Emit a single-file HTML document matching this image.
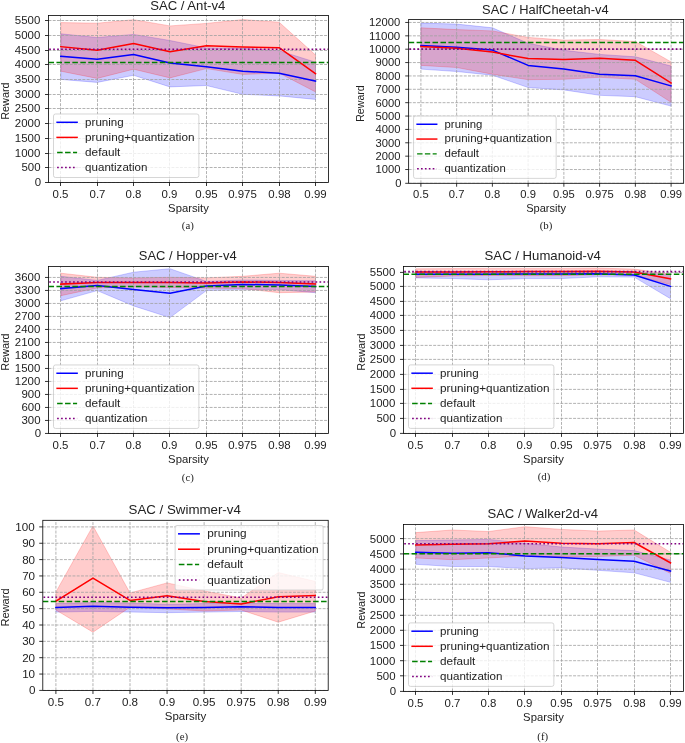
<!DOCTYPE html>
<html><head><meta charset="utf-8"><title>SAC pruning results</title>
<style>html,body{margin:0;padding:0;background:#fff;}svg{display:block;will-change:transform;}text{font-family:"Liberation Sans",sans-serif;}text.cap{font-family:"Liberation Serif",serif;}</style></head>
<body>
<svg width="685" height="743" viewBox="0 0 685 743" font-family="Liberation Sans, sans-serif">
<clipPath id="cpa"><rect x="48.5" y="15.5" width="280.0" height="167.0"/></clipPath>
<g clip-path="url(#cpa)">
<polygon points="60.80,33.80 97.19,37.50 133.58,34.40 169.97,40.50 206.36,47.90 242.75,48.10 279.14,50.70 315.53,62.20 315.53,99.40 279.14,95.90 242.75,94.30 206.36,85.50 169.97,86.90 133.58,75.30 97.19,82.40 60.80,79.40" fill="#0000ff" fill-opacity="0.2" stroke="#0000ff" stroke-opacity="0.2" stroke-width="1" stroke-linejoin="miter"/>
<polygon points="60.80,22.60 97.19,23.20 133.58,19.70 169.97,25.90 206.36,23.40 242.75,19.60 279.14,22.20 315.53,55.00 315.53,91.90 279.14,73.10 242.75,74.40 206.36,68.60 169.97,77.90 133.58,69.20 97.19,78.40 60.80,71.20" fill="#ff0000" fill-opacity="0.2" stroke="#ff0000" stroke-opacity="0.2" stroke-width="1" stroke-linejoin="miter"/>
<line x1="60.50" y1="182.5" x2="60.50" y2="15.5" stroke="#a0a0a0" stroke-width="0.8" stroke-dasharray="2.96 1.28"/>
<line x1="97.50" y1="182.5" x2="97.50" y2="15.5" stroke="#a0a0a0" stroke-width="0.8" stroke-dasharray="2.96 1.28"/>
<line x1="133.50" y1="182.5" x2="133.50" y2="15.5" stroke="#a0a0a0" stroke-width="0.8" stroke-dasharray="2.96 1.28"/>
<line x1="169.50" y1="182.5" x2="169.50" y2="15.5" stroke="#a0a0a0" stroke-width="0.8" stroke-dasharray="2.96 1.28"/>
<line x1="206.50" y1="182.5" x2="206.50" y2="15.5" stroke="#a0a0a0" stroke-width="0.8" stroke-dasharray="2.96 1.28"/>
<line x1="242.50" y1="182.5" x2="242.50" y2="15.5" stroke="#a0a0a0" stroke-width="0.8" stroke-dasharray="2.96 1.28"/>
<line x1="279.50" y1="182.5" x2="279.50" y2="15.5" stroke="#a0a0a0" stroke-width="0.8" stroke-dasharray="2.96 1.28"/>
<line x1="315.50" y1="182.5" x2="315.50" y2="15.5" stroke="#a0a0a0" stroke-width="0.8" stroke-dasharray="2.96 1.28"/>
<line x1="48.5" y1="182.50" x2="328.5" y2="182.50" stroke="#a0a0a0" stroke-width="0.8" stroke-dasharray="2.96 1.28"/>
<line x1="48.5" y1="167.50" x2="328.5" y2="167.50" stroke="#a0a0a0" stroke-width="0.8" stroke-dasharray="2.96 1.28"/>
<line x1="48.5" y1="153.50" x2="328.5" y2="153.50" stroke="#a0a0a0" stroke-width="0.8" stroke-dasharray="2.96 1.28"/>
<line x1="48.5" y1="138.50" x2="328.5" y2="138.50" stroke="#a0a0a0" stroke-width="0.8" stroke-dasharray="2.96 1.28"/>
<line x1="48.5" y1="123.50" x2="328.5" y2="123.50" stroke="#a0a0a0" stroke-width="0.8" stroke-dasharray="2.96 1.28"/>
<line x1="48.5" y1="108.50" x2="328.5" y2="108.50" stroke="#a0a0a0" stroke-width="0.8" stroke-dasharray="2.96 1.28"/>
<line x1="48.5" y1="94.50" x2="328.5" y2="94.50" stroke="#a0a0a0" stroke-width="0.8" stroke-dasharray="2.96 1.28"/>
<line x1="48.5" y1="79.50" x2="328.5" y2="79.50" stroke="#a0a0a0" stroke-width="0.8" stroke-dasharray="2.96 1.28"/>
<line x1="48.5" y1="64.50" x2="328.5" y2="64.50" stroke="#a0a0a0" stroke-width="0.8" stroke-dasharray="2.96 1.28"/>
<line x1="48.5" y1="50.50" x2="328.5" y2="50.50" stroke="#a0a0a0" stroke-width="0.8" stroke-dasharray="2.96 1.28"/>
<line x1="48.5" y1="35.50" x2="328.5" y2="35.50" stroke="#a0a0a0" stroke-width="0.8" stroke-dasharray="2.96 1.28"/>
<line x1="48.5" y1="20.50" x2="328.5" y2="20.50" stroke="#a0a0a0" stroke-width="0.8" stroke-dasharray="2.96 1.28"/>
<polyline points="60.80,56.30 97.19,59.30 133.58,54.40 169.97,63.00 206.36,66.70 242.75,71.20 279.14,73.20 315.53,81.00" fill="none" stroke="#0000ff" stroke-width="1.5" stroke-linejoin="round" stroke-linecap="square"/>
<polyline points="60.80,46.70 97.19,50.20 133.58,43.60 169.97,51.80 206.36,45.70 242.75,47.10 279.14,47.70 315.53,73.70" fill="none" stroke="#ff0000" stroke-width="1.5" stroke-linejoin="round" stroke-linecap="square"/>
<line x1="48.5" y1="62.40" x2="328.5" y2="62.40" stroke="#008000" stroke-width="1.5" stroke-dasharray="5.55 2.4"/>
<line x1="48.5" y1="49.30" x2="328.5" y2="49.30" stroke="#800080" stroke-width="1.6" stroke-dasharray="1.7 2.275" stroke-dashoffset="-0.7"/>
</g>
<line x1="60.50" y1="182.5" x2="60.50" y2="186.00" stroke="#000" stroke-width="0.800"/>
<line x1="97.50" y1="182.5" x2="97.50" y2="186.00" stroke="#000" stroke-width="0.800"/>
<line x1="133.50" y1="182.5" x2="133.50" y2="186.00" stroke="#000" stroke-width="0.800"/>
<line x1="169.50" y1="182.5" x2="169.50" y2="186.00" stroke="#000" stroke-width="0.800"/>
<line x1="206.50" y1="182.5" x2="206.50" y2="186.00" stroke="#000" stroke-width="0.800"/>
<line x1="242.50" y1="182.5" x2="242.50" y2="186.00" stroke="#000" stroke-width="0.800"/>
<line x1="279.50" y1="182.5" x2="279.50" y2="186.00" stroke="#000" stroke-width="0.800"/>
<line x1="315.50" y1="182.5" x2="315.50" y2="186.00" stroke="#000" stroke-width="0.800"/>
<line x1="48.5" y1="182.50" x2="45.00" y2="182.50" stroke="#000" stroke-width="0.800"/>
<line x1="48.5" y1="167.50" x2="45.00" y2="167.50" stroke="#000" stroke-width="0.800"/>
<line x1="48.5" y1="153.50" x2="45.00" y2="153.50" stroke="#000" stroke-width="0.800"/>
<line x1="48.5" y1="138.50" x2="45.00" y2="138.50" stroke="#000" stroke-width="0.800"/>
<line x1="48.5" y1="123.50" x2="45.00" y2="123.50" stroke="#000" stroke-width="0.800"/>
<line x1="48.5" y1="108.50" x2="45.00" y2="108.50" stroke="#000" stroke-width="0.800"/>
<line x1="48.5" y1="94.50" x2="45.00" y2="94.50" stroke="#000" stroke-width="0.800"/>
<line x1="48.5" y1="79.50" x2="45.00" y2="79.50" stroke="#000" stroke-width="0.800"/>
<line x1="48.5" y1="64.50" x2="45.00" y2="64.50" stroke="#000" stroke-width="0.800"/>
<line x1="48.5" y1="50.50" x2="45.00" y2="50.50" stroke="#000" stroke-width="0.800"/>
<line x1="48.5" y1="35.50" x2="45.00" y2="35.50" stroke="#000" stroke-width="0.800"/>
<line x1="48.5" y1="20.50" x2="45.00" y2="20.50" stroke="#000" stroke-width="0.800"/>
<rect x="48.5" y="15.5" width="280.0" height="167.0" fill="none" stroke="#000" stroke-width="0.8"/>
<rect x="53.50" y="114.00" width="145.36" height="63.50" rx="2.00" ry="2.00" fill="#fff" fill-opacity="0.8" stroke="#ccc" stroke-opacity="0.8" stroke-width="1.00"/>
<line x1="57.10" y1="122.30" x2="77.10" y2="122.30" stroke="#0000ff" stroke-width="1.50" stroke-linecap="square"/>
<line x1="57.10" y1="137.40" x2="77.10" y2="137.40" stroke="#ff0000" stroke-width="1.50" stroke-linecap="square"/>
<line x1="57.10" y1="152.50" x2="77.10" y2="152.50" stroke="#008000" stroke-width="1.50" stroke-dasharray="5.55 2.40"/>
<line x1="57.10" y1="167.60" x2="77.10" y2="167.60" stroke="#800080" stroke-width="1.50" stroke-dasharray="1.70 2.27"/>
<clipPath id="cpb"><rect x="408.65" y="19.55" width="275.0" height="163.75"/></clipPath>
<g clip-path="url(#cpb)">
<polygon points="420.90,23.10 456.64,24.10 492.39,27.80 528.13,43.30 563.87,50.30 599.61,54.40 635.36,56.80 671.10,66.00 671.10,106.10 635.36,96.70 599.61,95.30 563.87,89.90 528.13,87.50 492.39,75.20 456.64,71.50 420.90,69.10" fill="#0000ff" fill-opacity="0.2" stroke="#0000ff" stroke-opacity="0.2" stroke-width="1" stroke-linejoin="miter"/>
<polygon points="420.90,27.80 456.64,29.60 492.39,30.90 528.13,37.40 563.87,40.10 599.61,39.50 635.36,41.50 671.10,61.90 671.10,102.30 635.36,79.30 599.61,77.30 563.87,79.30 528.13,79.70 492.39,74.20 456.64,67.50 420.90,65.40" fill="#ff0000" fill-opacity="0.2" stroke="#ff0000" stroke-opacity="0.2" stroke-width="1" stroke-linejoin="miter"/>
<line x1="420.90" y1="183.3" x2="420.90" y2="19.55" stroke="#a0a0a0" stroke-width="0.8" stroke-dasharray="2.96 1.28"/>
<line x1="456.64" y1="183.3" x2="456.64" y2="19.55" stroke="#a0a0a0" stroke-width="0.8" stroke-dasharray="2.96 1.28"/>
<line x1="492.39" y1="183.3" x2="492.39" y2="19.55" stroke="#a0a0a0" stroke-width="0.8" stroke-dasharray="2.96 1.28"/>
<line x1="528.13" y1="183.3" x2="528.13" y2="19.55" stroke="#a0a0a0" stroke-width="0.8" stroke-dasharray="2.96 1.28"/>
<line x1="563.87" y1="183.3" x2="563.87" y2="19.55" stroke="#a0a0a0" stroke-width="0.8" stroke-dasharray="2.96 1.28"/>
<line x1="599.61" y1="183.3" x2="599.61" y2="19.55" stroke="#a0a0a0" stroke-width="0.8" stroke-dasharray="2.96 1.28"/>
<line x1="635.36" y1="183.3" x2="635.36" y2="19.55" stroke="#a0a0a0" stroke-width="0.8" stroke-dasharray="2.96 1.28"/>
<line x1="671.10" y1="183.3" x2="671.10" y2="19.55" stroke="#a0a0a0" stroke-width="0.8" stroke-dasharray="2.96 1.28"/>
<line x1="408.65" y1="183.30" x2="683.65" y2="183.30" stroke="#a0a0a0" stroke-width="0.8" stroke-dasharray="2.96 1.28"/>
<line x1="408.65" y1="169.53" x2="683.65" y2="169.53" stroke="#a0a0a0" stroke-width="0.8" stroke-dasharray="2.96 1.28"/>
<line x1="408.65" y1="156.16" x2="683.65" y2="156.16" stroke="#a0a0a0" stroke-width="0.8" stroke-dasharray="2.96 1.28"/>
<line x1="408.65" y1="142.79" x2="683.65" y2="142.79" stroke="#a0a0a0" stroke-width="0.8" stroke-dasharray="2.96 1.28"/>
<line x1="408.65" y1="129.42" x2="683.65" y2="129.42" stroke="#a0a0a0" stroke-width="0.8" stroke-dasharray="2.96 1.28"/>
<line x1="408.65" y1="116.05" x2="683.65" y2="116.05" stroke="#a0a0a0" stroke-width="0.8" stroke-dasharray="2.96 1.28"/>
<line x1="408.65" y1="102.68" x2="683.65" y2="102.68" stroke="#a0a0a0" stroke-width="0.8" stroke-dasharray="2.96 1.28"/>
<line x1="408.65" y1="89.31" x2="683.65" y2="89.31" stroke="#a0a0a0" stroke-width="0.8" stroke-dasharray="2.96 1.28"/>
<line x1="408.65" y1="75.94" x2="683.65" y2="75.94" stroke="#a0a0a0" stroke-width="0.8" stroke-dasharray="2.96 1.28"/>
<line x1="408.65" y1="62.57" x2="683.65" y2="62.57" stroke="#a0a0a0" stroke-width="0.8" stroke-dasharray="2.96 1.28"/>
<line x1="408.65" y1="49.20" x2="683.65" y2="49.20" stroke="#a0a0a0" stroke-width="0.8" stroke-dasharray="2.96 1.28"/>
<line x1="408.65" y1="35.83" x2="683.65" y2="35.83" stroke="#a0a0a0" stroke-width="0.8" stroke-dasharray="2.96 1.28"/>
<line x1="408.65" y1="22.46" x2="683.65" y2="22.46" stroke="#a0a0a0" stroke-width="0.8" stroke-dasharray="2.96 1.28"/>
<polyline points="420.90,45.60 456.64,47.20 492.39,50.10 528.13,65.40 563.87,69.10 599.61,74.20 635.36,75.80 671.10,85.90" fill="none" stroke="#0000ff" stroke-width="1.5" stroke-linejoin="round" stroke-linecap="square"/>
<polyline points="420.90,46.60 456.64,48.20 492.39,52.10 528.13,58.50 563.87,59.50 599.61,58.30 635.36,60.30 671.10,83.00" fill="none" stroke="#ff0000" stroke-width="1.5" stroke-linejoin="round" stroke-linecap="square"/>
<line x1="408.65" y1="42.50" x2="683.65" y2="42.50" stroke="#008000" stroke-width="1.5" stroke-dasharray="5.55 2.4"/>
<line x1="408.65" y1="49.10" x2="683.65" y2="49.10" stroke="#800080" stroke-width="1.6" stroke-dasharray="1.7 2.275" stroke-dashoffset="-0.7"/>
</g>
<line x1="420.90" y1="183.3" x2="420.90" y2="186.73" stroke="#000" stroke-width="0.785"/>
<line x1="456.64" y1="183.3" x2="456.64" y2="186.73" stroke="#000" stroke-width="0.785"/>
<line x1="492.39" y1="183.3" x2="492.39" y2="186.73" stroke="#000" stroke-width="0.785"/>
<line x1="528.13" y1="183.3" x2="528.13" y2="186.73" stroke="#000" stroke-width="0.785"/>
<line x1="563.87" y1="183.3" x2="563.87" y2="186.73" stroke="#000" stroke-width="0.785"/>
<line x1="599.61" y1="183.3" x2="599.61" y2="186.73" stroke="#000" stroke-width="0.785"/>
<line x1="635.36" y1="183.3" x2="635.36" y2="186.73" stroke="#000" stroke-width="0.785"/>
<line x1="671.10" y1="183.3" x2="671.10" y2="186.73" stroke="#000" stroke-width="0.785"/>
<line x1="408.65" y1="183.30" x2="405.22" y2="183.30" stroke="#000" stroke-width="0.785"/>
<line x1="408.65" y1="169.53" x2="405.22" y2="169.53" stroke="#000" stroke-width="0.785"/>
<line x1="408.65" y1="156.16" x2="405.22" y2="156.16" stroke="#000" stroke-width="0.785"/>
<line x1="408.65" y1="142.79" x2="405.22" y2="142.79" stroke="#000" stroke-width="0.785"/>
<line x1="408.65" y1="129.42" x2="405.22" y2="129.42" stroke="#000" stroke-width="0.785"/>
<line x1="408.65" y1="116.05" x2="405.22" y2="116.05" stroke="#000" stroke-width="0.785"/>
<line x1="408.65" y1="102.68" x2="405.22" y2="102.68" stroke="#000" stroke-width="0.785"/>
<line x1="408.65" y1="89.31" x2="405.22" y2="89.31" stroke="#000" stroke-width="0.785"/>
<line x1="408.65" y1="75.94" x2="405.22" y2="75.94" stroke="#000" stroke-width="0.785"/>
<line x1="408.65" y1="62.57" x2="405.22" y2="62.57" stroke="#000" stroke-width="0.785"/>
<line x1="408.65" y1="49.20" x2="405.22" y2="49.20" stroke="#000" stroke-width="0.785"/>
<line x1="408.65" y1="35.83" x2="405.22" y2="35.83" stroke="#000" stroke-width="0.785"/>
<line x1="408.65" y1="22.46" x2="405.22" y2="22.46" stroke="#000" stroke-width="0.785"/>
<rect x="408.65" y="19.55" width="275.0" height="163.75" fill="none" stroke="#000" stroke-width="0.8"/>
<rect x="413.55" y="116.10" width="142.60" height="62.29" rx="1.96" ry="1.96" fill="#fff" fill-opacity="0.8" stroke="#ccc" stroke-opacity="0.8" stroke-width="0.98"/>
<line x1="417.09" y1="124.24" x2="436.71" y2="124.24" stroke="#0000ff" stroke-width="1.47" stroke-linecap="square"/>
<line x1="417.09" y1="139.06" x2="436.71" y2="139.06" stroke="#ff0000" stroke-width="1.47" stroke-linecap="square"/>
<line x1="417.09" y1="153.87" x2="436.71" y2="153.87" stroke="#008000" stroke-width="1.47" stroke-dasharray="5.44 2.35"/>
<line x1="417.09" y1="168.68" x2="436.71" y2="168.68" stroke="#800080" stroke-width="1.47" stroke-dasharray="1.67 2.23"/>
<clipPath id="cpc"><rect x="48.5" y="266.45" width="280.0" height="167.0"/></clipPath>
<g clip-path="url(#cpc)">
<polygon points="60.80,276.30 97.19,280.40 133.58,272.20 169.97,268.70 206.36,281.40 242.75,280.00 279.14,280.40 315.53,280.80 315.53,292.70 279.14,289.60 242.75,289.60 206.36,290.60 169.97,317.60 133.58,305.90 97.19,290.60 60.80,300.80" fill="#0000ff" fill-opacity="0.2" stroke="#0000ff" stroke-opacity="0.2" stroke-width="1" stroke-linejoin="miter"/>
<polygon points="60.80,273.20 97.19,277.30 133.58,278.00 169.97,277.30 206.36,277.90 242.75,276.30 279.14,273.20 315.53,276.30 315.53,292.00 279.14,292.70 242.75,288.60 206.36,288.20 169.97,287.50 133.58,287.00 97.19,288.00 60.80,295.70" fill="#ff0000" fill-opacity="0.2" stroke="#ff0000" stroke-opacity="0.2" stroke-width="1" stroke-linejoin="miter"/>
<line x1="60.50" y1="433.45" x2="60.50" y2="266.45" stroke="#a0a0a0" stroke-width="0.8" stroke-dasharray="2.96 1.28"/>
<line x1="97.50" y1="433.45" x2="97.50" y2="266.45" stroke="#a0a0a0" stroke-width="0.8" stroke-dasharray="2.96 1.28"/>
<line x1="133.50" y1="433.45" x2="133.50" y2="266.45" stroke="#a0a0a0" stroke-width="0.8" stroke-dasharray="2.96 1.28"/>
<line x1="169.50" y1="433.45" x2="169.50" y2="266.45" stroke="#a0a0a0" stroke-width="0.8" stroke-dasharray="2.96 1.28"/>
<line x1="206.50" y1="433.45" x2="206.50" y2="266.45" stroke="#a0a0a0" stroke-width="0.8" stroke-dasharray="2.96 1.28"/>
<line x1="242.50" y1="433.45" x2="242.50" y2="266.45" stroke="#a0a0a0" stroke-width="0.8" stroke-dasharray="2.96 1.28"/>
<line x1="279.50" y1="433.45" x2="279.50" y2="266.45" stroke="#a0a0a0" stroke-width="0.8" stroke-dasharray="2.96 1.28"/>
<line x1="315.50" y1="433.45" x2="315.50" y2="266.45" stroke="#a0a0a0" stroke-width="0.8" stroke-dasharray="2.96 1.28"/>
<line x1="48.5" y1="433.45" x2="328.5" y2="433.45" stroke="#a0a0a0" stroke-width="0.8" stroke-dasharray="2.96 1.28"/>
<line x1="48.5" y1="420.45" x2="328.5" y2="420.45" stroke="#a0a0a0" stroke-width="0.8" stroke-dasharray="2.96 1.28"/>
<line x1="48.5" y1="407.45" x2="328.5" y2="407.45" stroke="#a0a0a0" stroke-width="0.8" stroke-dasharray="2.96 1.28"/>
<line x1="48.5" y1="394.45" x2="328.5" y2="394.45" stroke="#a0a0a0" stroke-width="0.8" stroke-dasharray="2.96 1.28"/>
<line x1="48.5" y1="381.45" x2="328.5" y2="381.45" stroke="#a0a0a0" stroke-width="0.8" stroke-dasharray="2.96 1.28"/>
<line x1="48.5" y1="368.45" x2="328.5" y2="368.45" stroke="#a0a0a0" stroke-width="0.8" stroke-dasharray="2.96 1.28"/>
<line x1="48.5" y1="355.45" x2="328.5" y2="355.45" stroke="#a0a0a0" stroke-width="0.8" stroke-dasharray="2.96 1.28"/>
<line x1="48.5" y1="342.45" x2="328.5" y2="342.45" stroke="#a0a0a0" stroke-width="0.8" stroke-dasharray="2.96 1.28"/>
<line x1="48.5" y1="329.45" x2="328.5" y2="329.45" stroke="#a0a0a0" stroke-width="0.8" stroke-dasharray="2.96 1.28"/>
<line x1="48.5" y1="316.45" x2="328.5" y2="316.45" stroke="#a0a0a0" stroke-width="0.8" stroke-dasharray="2.96 1.28"/>
<line x1="48.5" y1="303.45" x2="328.5" y2="303.45" stroke="#a0a0a0" stroke-width="0.8" stroke-dasharray="2.96 1.28"/>
<line x1="48.5" y1="290.45" x2="328.5" y2="290.45" stroke="#a0a0a0" stroke-width="0.8" stroke-dasharray="2.96 1.28"/>
<line x1="48.5" y1="277.45" x2="328.5" y2="277.45" stroke="#a0a0a0" stroke-width="0.8" stroke-dasharray="2.96 1.28"/>
<polyline points="60.80,288.60 97.19,285.50 133.58,289.60 169.97,293.30 206.36,286.10 242.75,284.50 279.14,284.90 315.53,286.50" fill="none" stroke="#0000ff" stroke-width="1.5" stroke-linejoin="round" stroke-linecap="square"/>
<polyline points="60.80,284.10 97.19,282.40 133.58,282.40 169.97,282.40 206.36,283.05 242.75,282.00 279.14,282.40 315.53,283.90" fill="none" stroke="#ff0000" stroke-width="1.5" stroke-linejoin="round" stroke-linecap="square"/>
<line x1="48.5" y1="286.50" x2="328.5" y2="286.50" stroke="#008000" stroke-width="1.5" stroke-dasharray="5.55 2.4"/>
<line x1="48.5" y1="282.00" x2="328.5" y2="282.00" stroke="#800080" stroke-width="1.6" stroke-dasharray="1.7 2.275" stroke-dashoffset="-0.7"/>
</g>
<line x1="60.50" y1="433.45" x2="60.50" y2="436.95" stroke="#000" stroke-width="0.800"/>
<line x1="97.50" y1="433.45" x2="97.50" y2="436.95" stroke="#000" stroke-width="0.800"/>
<line x1="133.50" y1="433.45" x2="133.50" y2="436.95" stroke="#000" stroke-width="0.800"/>
<line x1="169.50" y1="433.45" x2="169.50" y2="436.95" stroke="#000" stroke-width="0.800"/>
<line x1="206.50" y1="433.45" x2="206.50" y2="436.95" stroke="#000" stroke-width="0.800"/>
<line x1="242.50" y1="433.45" x2="242.50" y2="436.95" stroke="#000" stroke-width="0.800"/>
<line x1="279.50" y1="433.45" x2="279.50" y2="436.95" stroke="#000" stroke-width="0.800"/>
<line x1="315.50" y1="433.45" x2="315.50" y2="436.95" stroke="#000" stroke-width="0.800"/>
<line x1="48.5" y1="433.45" x2="45.00" y2="433.45" stroke="#000" stroke-width="0.800"/>
<line x1="48.5" y1="420.45" x2="45.00" y2="420.45" stroke="#000" stroke-width="0.800"/>
<line x1="48.5" y1="407.45" x2="45.00" y2="407.45" stroke="#000" stroke-width="0.800"/>
<line x1="48.5" y1="394.45" x2="45.00" y2="394.45" stroke="#000" stroke-width="0.800"/>
<line x1="48.5" y1="381.45" x2="45.00" y2="381.45" stroke="#000" stroke-width="0.800"/>
<line x1="48.5" y1="368.45" x2="45.00" y2="368.45" stroke="#000" stroke-width="0.800"/>
<line x1="48.5" y1="355.45" x2="45.00" y2="355.45" stroke="#000" stroke-width="0.800"/>
<line x1="48.5" y1="342.45" x2="45.00" y2="342.45" stroke="#000" stroke-width="0.800"/>
<line x1="48.5" y1="329.45" x2="45.00" y2="329.45" stroke="#000" stroke-width="0.800"/>
<line x1="48.5" y1="316.45" x2="45.00" y2="316.45" stroke="#000" stroke-width="0.800"/>
<line x1="48.5" y1="303.45" x2="45.00" y2="303.45" stroke="#000" stroke-width="0.800"/>
<line x1="48.5" y1="290.45" x2="45.00" y2="290.45" stroke="#000" stroke-width="0.800"/>
<line x1="48.5" y1="277.45" x2="45.00" y2="277.45" stroke="#000" stroke-width="0.800"/>
<rect x="48.5" y="266.45" width="280.0" height="167.0" fill="none" stroke="#000" stroke-width="0.8"/>
<rect x="53.50" y="364.95" width="145.36" height="63.50" rx="2.00" ry="2.00" fill="#fff" fill-opacity="0.8" stroke="#ccc" stroke-opacity="0.8" stroke-width="1.00"/>
<line x1="57.10" y1="373.25" x2="77.10" y2="373.25" stroke="#0000ff" stroke-width="1.50" stroke-linecap="square"/>
<line x1="57.10" y1="388.35" x2="77.10" y2="388.35" stroke="#ff0000" stroke-width="1.50" stroke-linecap="square"/>
<line x1="57.10" y1="403.45" x2="77.10" y2="403.45" stroke="#008000" stroke-width="1.50" stroke-dasharray="5.55 2.40"/>
<line x1="57.10" y1="418.55" x2="77.10" y2="418.55" stroke="#800080" stroke-width="1.50" stroke-dasharray="1.70 2.27"/>
<clipPath id="cpd"><rect x="403.5" y="266.4" width="280.0" height="167.0"/></clipPath>
<g clip-path="url(#cpd)">
<polygon points="415.80,271.60 452.19,271.60 488.58,271.60 524.97,271.40 561.36,271.40 597.75,271.40 634.14,272.50 670.53,274.50 670.53,298.70 634.14,277.10 597.75,276.80 561.36,278.60 524.97,278.60 488.58,279.80 452.19,278.50 415.80,277.90" fill="#0000ff" fill-opacity="0.2" stroke="#0000ff" stroke-opacity="0.2" stroke-width="1" stroke-linejoin="miter"/>
<polygon points="415.80,268.80 452.19,268.60 488.58,268.40 524.97,268.40 561.36,268.40 597.75,268.10 634.14,269.10 670.53,274.20 670.53,284.60 634.14,275.00 597.75,274.80 561.36,275.70 524.97,275.70 488.58,275.50 452.19,276.00 415.80,277.40" fill="#ff0000" fill-opacity="0.2" stroke="#ff0000" stroke-opacity="0.2" stroke-width="1" stroke-linejoin="miter"/>
<line x1="415.50" y1="433.4" x2="415.50" y2="266.4" stroke="#a0a0a0" stroke-width="0.8" stroke-dasharray="2.96 1.28"/>
<line x1="452.50" y1="433.4" x2="452.50" y2="266.4" stroke="#a0a0a0" stroke-width="0.8" stroke-dasharray="2.96 1.28"/>
<line x1="488.50" y1="433.4" x2="488.50" y2="266.4" stroke="#a0a0a0" stroke-width="0.8" stroke-dasharray="2.96 1.28"/>
<line x1="524.50" y1="433.4" x2="524.50" y2="266.4" stroke="#a0a0a0" stroke-width="0.8" stroke-dasharray="2.96 1.28"/>
<line x1="561.50" y1="433.4" x2="561.50" y2="266.4" stroke="#a0a0a0" stroke-width="0.8" stroke-dasharray="2.96 1.28"/>
<line x1="597.50" y1="433.4" x2="597.50" y2="266.4" stroke="#a0a0a0" stroke-width="0.8" stroke-dasharray="2.96 1.28"/>
<line x1="634.50" y1="433.4" x2="634.50" y2="266.4" stroke="#a0a0a0" stroke-width="0.8" stroke-dasharray="2.96 1.28"/>
<line x1="670.50" y1="433.4" x2="670.50" y2="266.4" stroke="#a0a0a0" stroke-width="0.8" stroke-dasharray="2.96 1.28"/>
<line x1="403.5" y1="433.40" x2="683.5" y2="433.40" stroke="#a0a0a0" stroke-width="0.8" stroke-dasharray="2.96 1.28"/>
<line x1="403.5" y1="418.40" x2="683.5" y2="418.40" stroke="#a0a0a0" stroke-width="0.8" stroke-dasharray="2.96 1.28"/>
<line x1="403.5" y1="403.40" x2="683.5" y2="403.40" stroke="#a0a0a0" stroke-width="0.8" stroke-dasharray="2.96 1.28"/>
<line x1="403.5" y1="389.40" x2="683.5" y2="389.40" stroke="#a0a0a0" stroke-width="0.8" stroke-dasharray="2.96 1.28"/>
<line x1="403.5" y1="374.40" x2="683.5" y2="374.40" stroke="#a0a0a0" stroke-width="0.8" stroke-dasharray="2.96 1.28"/>
<line x1="403.5" y1="359.40" x2="683.5" y2="359.40" stroke="#a0a0a0" stroke-width="0.8" stroke-dasharray="2.96 1.28"/>
<line x1="403.5" y1="345.40" x2="683.5" y2="345.40" stroke="#a0a0a0" stroke-width="0.8" stroke-dasharray="2.96 1.28"/>
<line x1="403.5" y1="330.40" x2="683.5" y2="330.40" stroke="#a0a0a0" stroke-width="0.8" stroke-dasharray="2.96 1.28"/>
<line x1="403.5" y1="315.40" x2="683.5" y2="315.40" stroke="#a0a0a0" stroke-width="0.8" stroke-dasharray="2.96 1.28"/>
<line x1="403.5" y1="301.40" x2="683.5" y2="301.40" stroke="#a0a0a0" stroke-width="0.8" stroke-dasharray="2.96 1.28"/>
<line x1="403.5" y1="286.40" x2="683.5" y2="286.40" stroke="#a0a0a0" stroke-width="0.8" stroke-dasharray="2.96 1.28"/>
<line x1="403.5" y1="272.40" x2="683.5" y2="272.40" stroke="#a0a0a0" stroke-width="0.8" stroke-dasharray="2.96 1.28"/>
<polyline points="415.80,274.20 452.19,274.20 488.58,274.30 524.97,273.90 561.36,273.90 597.75,273.80 634.14,275.00 670.53,286.40" fill="none" stroke="#0000ff" stroke-width="1.5" stroke-linejoin="round" stroke-linecap="square"/>
<polyline points="415.80,272.00 452.19,272.00 488.58,271.70 524.97,271.60 561.36,271.60 597.75,271.30 634.14,272.00 670.53,278.80" fill="none" stroke="#ff0000" stroke-width="1.5" stroke-linejoin="round" stroke-linecap="square"/>
<line x1="403.5" y1="274.20" x2="683.5" y2="274.20" stroke="#008000" stroke-width="1.5" stroke-dasharray="5.55 2.4"/>
<line x1="403.5" y1="271.60" x2="683.5" y2="271.60" stroke="#800080" stroke-width="1.6" stroke-dasharray="1.7 2.275" stroke-dashoffset="-0.7"/>
</g>
<line x1="415.50" y1="433.4" x2="415.50" y2="436.90" stroke="#000" stroke-width="0.800"/>
<line x1="452.50" y1="433.4" x2="452.50" y2="436.90" stroke="#000" stroke-width="0.800"/>
<line x1="488.50" y1="433.4" x2="488.50" y2="436.90" stroke="#000" stroke-width="0.800"/>
<line x1="524.50" y1="433.4" x2="524.50" y2="436.90" stroke="#000" stroke-width="0.800"/>
<line x1="561.50" y1="433.4" x2="561.50" y2="436.90" stroke="#000" stroke-width="0.800"/>
<line x1="597.50" y1="433.4" x2="597.50" y2="436.90" stroke="#000" stroke-width="0.800"/>
<line x1="634.50" y1="433.4" x2="634.50" y2="436.90" stroke="#000" stroke-width="0.800"/>
<line x1="670.50" y1="433.4" x2="670.50" y2="436.90" stroke="#000" stroke-width="0.800"/>
<line x1="403.5" y1="433.40" x2="400.00" y2="433.40" stroke="#000" stroke-width="0.800"/>
<line x1="403.5" y1="418.40" x2="400.00" y2="418.40" stroke="#000" stroke-width="0.800"/>
<line x1="403.5" y1="403.40" x2="400.00" y2="403.40" stroke="#000" stroke-width="0.800"/>
<line x1="403.5" y1="389.40" x2="400.00" y2="389.40" stroke="#000" stroke-width="0.800"/>
<line x1="403.5" y1="374.40" x2="400.00" y2="374.40" stroke="#000" stroke-width="0.800"/>
<line x1="403.5" y1="359.40" x2="400.00" y2="359.40" stroke="#000" stroke-width="0.800"/>
<line x1="403.5" y1="345.40" x2="400.00" y2="345.40" stroke="#000" stroke-width="0.800"/>
<line x1="403.5" y1="330.40" x2="400.00" y2="330.40" stroke="#000" stroke-width="0.800"/>
<line x1="403.5" y1="315.40" x2="400.00" y2="315.40" stroke="#000" stroke-width="0.800"/>
<line x1="403.5" y1="301.40" x2="400.00" y2="301.40" stroke="#000" stroke-width="0.800"/>
<line x1="403.5" y1="286.40" x2="400.00" y2="286.40" stroke="#000" stroke-width="0.800"/>
<line x1="403.5" y1="272.40" x2="400.00" y2="272.40" stroke="#000" stroke-width="0.800"/>
<rect x="403.5" y="266.4" width="280.0" height="167.0" fill="none" stroke="#000" stroke-width="0.8"/>
<rect x="408.50" y="364.90" width="145.36" height="63.50" rx="2.00" ry="2.00" fill="#fff" fill-opacity="0.8" stroke="#ccc" stroke-opacity="0.8" stroke-width="1.00"/>
<line x1="412.10" y1="373.20" x2="432.10" y2="373.20" stroke="#0000ff" stroke-width="1.50" stroke-linecap="square"/>
<line x1="412.10" y1="388.30" x2="432.10" y2="388.30" stroke="#ff0000" stroke-width="1.50" stroke-linecap="square"/>
<line x1="412.10" y1="403.40" x2="432.10" y2="403.40" stroke="#008000" stroke-width="1.50" stroke-dasharray="5.55 2.40"/>
<line x1="412.10" y1="418.50" x2="432.10" y2="418.50" stroke="#800080" stroke-width="1.50" stroke-dasharray="1.70 2.27"/>
<clipPath id="cpe"><rect x="42.8" y="520.3" width="285.4" height="170.10000000000002"/></clipPath>
<g clip-path="url(#cpe)">
<polygon points="55.90,603.60 92.96,602.60 130.01,603.00 167.07,604.30 204.13,603.60 241.19,603.00 278.24,603.60 315.30,603.60 315.30,612.10 278.24,612.10 241.19,611.50 204.13,612.10 167.07,612.70 130.01,612.00 92.96,611.40 55.90,612.10" fill="#0000ff" fill-opacity="0.2" stroke="#0000ff" stroke-opacity="0.2" stroke-width="1" stroke-linejoin="miter"/>
<polygon points="55.90,592.00 92.96,525.90 130.01,593.00 167.07,582.90 204.13,590.90 241.19,598.00 278.24,572.50 315.30,581.40 315.30,611.00 278.24,622.20 241.19,610.00 204.13,611.00 167.07,608.90 130.01,607.20 92.96,632.20 55.90,610.00" fill="#ff0000" fill-opacity="0.2" stroke="#ff0000" stroke-opacity="0.2" stroke-width="1" stroke-linejoin="miter"/>
<line x1="55.90" y1="690.4" x2="55.90" y2="520.3" stroke="#a0a0a0" stroke-width="0.8" stroke-dasharray="2.96 1.28"/>
<line x1="92.96" y1="690.4" x2="92.96" y2="520.3" stroke="#a0a0a0" stroke-width="0.8" stroke-dasharray="2.96 1.28"/>
<line x1="130.01" y1="690.4" x2="130.01" y2="520.3" stroke="#a0a0a0" stroke-width="0.8" stroke-dasharray="2.96 1.28"/>
<line x1="167.07" y1="690.4" x2="167.07" y2="520.3" stroke="#a0a0a0" stroke-width="0.8" stroke-dasharray="2.96 1.28"/>
<line x1="204.13" y1="690.4" x2="204.13" y2="520.3" stroke="#a0a0a0" stroke-width="0.8" stroke-dasharray="2.96 1.28"/>
<line x1="241.19" y1="690.4" x2="241.19" y2="520.3" stroke="#a0a0a0" stroke-width="0.8" stroke-dasharray="2.96 1.28"/>
<line x1="278.24" y1="690.4" x2="278.24" y2="520.3" stroke="#a0a0a0" stroke-width="0.8" stroke-dasharray="2.96 1.28"/>
<line x1="315.30" y1="690.4" x2="315.30" y2="520.3" stroke="#a0a0a0" stroke-width="0.8" stroke-dasharray="2.96 1.28"/>
<line x1="42.8" y1="690.40" x2="328.2" y2="690.40" stroke="#a0a0a0" stroke-width="0.8" stroke-dasharray="2.96 1.28"/>
<line x1="42.8" y1="674.05" x2="328.2" y2="674.05" stroke="#a0a0a0" stroke-width="0.8" stroke-dasharray="2.96 1.28"/>
<line x1="42.8" y1="657.70" x2="328.2" y2="657.70" stroke="#a0a0a0" stroke-width="0.8" stroke-dasharray="2.96 1.28"/>
<line x1="42.8" y1="641.35" x2="328.2" y2="641.35" stroke="#a0a0a0" stroke-width="0.8" stroke-dasharray="2.96 1.28"/>
<line x1="42.8" y1="625.00" x2="328.2" y2="625.00" stroke="#a0a0a0" stroke-width="0.8" stroke-dasharray="2.96 1.28"/>
<line x1="42.8" y1="608.65" x2="328.2" y2="608.65" stroke="#a0a0a0" stroke-width="0.8" stroke-dasharray="2.96 1.28"/>
<line x1="42.8" y1="592.30" x2="328.2" y2="592.30" stroke="#a0a0a0" stroke-width="0.8" stroke-dasharray="2.96 1.28"/>
<line x1="42.8" y1="575.95" x2="328.2" y2="575.95" stroke="#a0a0a0" stroke-width="0.8" stroke-dasharray="2.96 1.28"/>
<line x1="42.8" y1="559.60" x2="328.2" y2="559.60" stroke="#a0a0a0" stroke-width="0.8" stroke-dasharray="2.96 1.28"/>
<line x1="42.8" y1="543.25" x2="328.2" y2="543.25" stroke="#a0a0a0" stroke-width="0.8" stroke-dasharray="2.96 1.28"/>
<line x1="42.8" y1="526.90" x2="328.2" y2="526.90" stroke="#a0a0a0" stroke-width="0.8" stroke-dasharray="2.96 1.28"/>
<polyline points="55.90,607.40 92.96,606.20 130.01,607.20 167.07,607.85 204.13,607.40 241.19,606.80 278.24,607.40 315.30,607.40" fill="none" stroke="#0000ff" stroke-width="1.5" stroke-linejoin="round" stroke-linecap="square"/>
<polyline points="55.90,601.10 92.96,578.20 130.01,600.40 167.07,595.80 204.13,601.50 241.19,604.00 278.24,596.80 315.30,595.60" fill="none" stroke="#ff0000" stroke-width="1.5" stroke-linejoin="round" stroke-linecap="square"/>
<line x1="42.8" y1="601.50" x2="328.2" y2="601.50" stroke="#008000" stroke-width="1.5" stroke-dasharray="5.55 2.4"/>
<line x1="42.8" y1="597.30" x2="328.2" y2="597.30" stroke="#800080" stroke-width="1.6" stroke-dasharray="1.7 2.275" stroke-dashoffset="-0.7"/>
</g>
<line x1="55.90" y1="690.4" x2="55.90" y2="693.96" stroke="#000" stroke-width="0.814"/>
<line x1="92.96" y1="690.4" x2="92.96" y2="693.96" stroke="#000" stroke-width="0.814"/>
<line x1="130.01" y1="690.4" x2="130.01" y2="693.96" stroke="#000" stroke-width="0.814"/>
<line x1="167.07" y1="690.4" x2="167.07" y2="693.96" stroke="#000" stroke-width="0.814"/>
<line x1="204.13" y1="690.4" x2="204.13" y2="693.96" stroke="#000" stroke-width="0.814"/>
<line x1="241.19" y1="690.4" x2="241.19" y2="693.96" stroke="#000" stroke-width="0.814"/>
<line x1="278.24" y1="690.4" x2="278.24" y2="693.96" stroke="#000" stroke-width="0.814"/>
<line x1="315.30" y1="690.4" x2="315.30" y2="693.96" stroke="#000" stroke-width="0.814"/>
<line x1="42.8" y1="690.40" x2="39.24" y2="690.40" stroke="#000" stroke-width="0.814"/>
<line x1="42.8" y1="674.05" x2="39.24" y2="674.05" stroke="#000" stroke-width="0.814"/>
<line x1="42.8" y1="657.70" x2="39.24" y2="657.70" stroke="#000" stroke-width="0.814"/>
<line x1="42.8" y1="641.35" x2="39.24" y2="641.35" stroke="#000" stroke-width="0.814"/>
<line x1="42.8" y1="625.00" x2="39.24" y2="625.00" stroke="#000" stroke-width="0.814"/>
<line x1="42.8" y1="608.65" x2="39.24" y2="608.65" stroke="#000" stroke-width="0.814"/>
<line x1="42.8" y1="592.30" x2="39.24" y2="592.30" stroke="#000" stroke-width="0.814"/>
<line x1="42.8" y1="575.95" x2="39.24" y2="575.95" stroke="#000" stroke-width="0.814"/>
<line x1="42.8" y1="559.60" x2="39.24" y2="559.60" stroke="#000" stroke-width="0.814"/>
<line x1="42.8" y1="543.25" x2="39.24" y2="543.25" stroke="#000" stroke-width="0.814"/>
<line x1="42.8" y1="526.90" x2="39.24" y2="526.90" stroke="#000" stroke-width="0.814"/>
<rect x="42.8" y="520.3" width="285.4" height="170.10000000000002" fill="none" stroke="#000" stroke-width="0.8"/>
<rect x="175.13" y="525.39" width="147.98" height="64.64" rx="2.04" ry="2.04" fill="#fff" fill-opacity="0.8" stroke="#ccc" stroke-opacity="0.8" stroke-width="1.02"/>
<line x1="178.79" y1="533.84" x2="199.15" y2="533.84" stroke="#0000ff" stroke-width="1.53" stroke-linecap="square"/>
<line x1="178.79" y1="549.21" x2="199.15" y2="549.21" stroke="#ff0000" stroke-width="1.53" stroke-linecap="square"/>
<line x1="178.79" y1="564.58" x2="199.15" y2="564.58" stroke="#008000" stroke-width="1.53" stroke-dasharray="5.65 2.44"/>
<line x1="178.79" y1="579.95" x2="199.15" y2="579.95" stroke="#800080" stroke-width="1.53" stroke-dasharray="1.73 2.32"/>
<clipPath id="cpf"><rect x="403.5" y="524.4" width="280.0" height="167.0"/></clipPath>
<g clip-path="url(#cpf)">
<polygon points="415.80,540.60 452.19,540.00 488.58,539.40 524.97,543.20 561.36,547.00 597.75,549.10 634.14,550.60 670.53,560.10 670.53,582.30 634.14,572.80 597.75,570.30 561.36,567.90 524.97,568.60 488.58,566.50 452.19,566.50 415.80,564.30" fill="#0000ff" fill-opacity="0.2" stroke="#0000ff" stroke-opacity="0.2" stroke-width="1" stroke-linejoin="miter"/>
<polygon points="415.80,532.60 452.19,530.00 488.58,531.50 524.97,526.70 561.36,529.40 597.75,531.10 634.14,530.00 670.53,552.30 670.53,573.40 634.14,555.20 597.75,556.50 561.36,556.90 524.97,555.90 488.58,558.00 452.19,559.70 415.80,558.00" fill="#ff0000" fill-opacity="0.2" stroke="#ff0000" stroke-opacity="0.2" stroke-width="1" stroke-linejoin="miter"/>
<line x1="415.50" y1="691.4" x2="415.50" y2="524.4" stroke="#a0a0a0" stroke-width="0.8" stroke-dasharray="2.96 1.28"/>
<line x1="452.50" y1="691.4" x2="452.50" y2="524.4" stroke="#a0a0a0" stroke-width="0.8" stroke-dasharray="2.96 1.28"/>
<line x1="488.50" y1="691.4" x2="488.50" y2="524.4" stroke="#a0a0a0" stroke-width="0.8" stroke-dasharray="2.96 1.28"/>
<line x1="524.50" y1="691.4" x2="524.50" y2="524.4" stroke="#a0a0a0" stroke-width="0.8" stroke-dasharray="2.96 1.28"/>
<line x1="561.50" y1="691.4" x2="561.50" y2="524.4" stroke="#a0a0a0" stroke-width="0.8" stroke-dasharray="2.96 1.28"/>
<line x1="597.50" y1="691.4" x2="597.50" y2="524.4" stroke="#a0a0a0" stroke-width="0.8" stroke-dasharray="2.96 1.28"/>
<line x1="634.50" y1="691.4" x2="634.50" y2="524.4" stroke="#a0a0a0" stroke-width="0.8" stroke-dasharray="2.96 1.28"/>
<line x1="670.50" y1="691.4" x2="670.50" y2="524.4" stroke="#a0a0a0" stroke-width="0.8" stroke-dasharray="2.96 1.28"/>
<line x1="403.5" y1="691.40" x2="683.5" y2="691.40" stroke="#a0a0a0" stroke-width="0.8" stroke-dasharray="2.96 1.28"/>
<line x1="403.5" y1="675.80" x2="683.5" y2="675.80" stroke="#a0a0a0" stroke-width="0.8" stroke-dasharray="2.96 1.28"/>
<line x1="403.5" y1="660.70" x2="683.5" y2="660.70" stroke="#a0a0a0" stroke-width="0.8" stroke-dasharray="2.96 1.28"/>
<line x1="403.5" y1="645.40" x2="683.5" y2="645.40" stroke="#a0a0a0" stroke-width="0.8" stroke-dasharray="2.96 1.28"/>
<line x1="403.5" y1="630.30" x2="683.5" y2="630.30" stroke="#a0a0a0" stroke-width="0.8" stroke-dasharray="2.96 1.28"/>
<line x1="403.5" y1="615.30" x2="683.5" y2="615.30" stroke="#a0a0a0" stroke-width="0.8" stroke-dasharray="2.96 1.28"/>
<line x1="403.5" y1="599.40" x2="683.5" y2="599.40" stroke="#a0a0a0" stroke-width="0.8" stroke-dasharray="2.96 1.28"/>
<line x1="403.5" y1="584.30" x2="683.5" y2="584.30" stroke="#a0a0a0" stroke-width="0.8" stroke-dasharray="2.96 1.28"/>
<line x1="403.5" y1="569.20" x2="683.5" y2="569.20" stroke="#a0a0a0" stroke-width="0.8" stroke-dasharray="2.96 1.28"/>
<line x1="403.5" y1="553.90" x2="683.5" y2="553.90" stroke="#a0a0a0" stroke-width="0.8" stroke-dasharray="2.96 1.28"/>
<line x1="403.5" y1="538.60" x2="683.5" y2="538.60" stroke="#a0a0a0" stroke-width="0.8" stroke-dasharray="2.96 1.28"/>
<polyline points="415.80,552.30 452.19,553.30 488.58,552.70 524.97,555.90 561.36,557.60 597.75,559.50 634.14,561.20 670.53,571.10" fill="none" stroke="#0000ff" stroke-width="1.5" stroke-linejoin="round" stroke-linecap="square"/>
<polyline points="415.80,544.90 452.19,544.20 488.58,543.80 524.97,541.05 561.36,543.20 597.75,543.80 634.14,542.50 670.53,562.90" fill="none" stroke="#ff0000" stroke-width="1.5" stroke-linejoin="round" stroke-linecap="square"/>
<line x1="403.5" y1="553.75" x2="683.5" y2="553.75" stroke="#008000" stroke-width="1.5" stroke-dasharray="5.55 2.4"/>
<line x1="403.5" y1="543.80" x2="683.5" y2="543.80" stroke="#800080" stroke-width="1.6" stroke-dasharray="1.7 2.275" stroke-dashoffset="-0.7"/>
</g>
<line x1="415.50" y1="691.4" x2="415.50" y2="694.90" stroke="#000" stroke-width="0.800"/>
<line x1="452.50" y1="691.4" x2="452.50" y2="694.90" stroke="#000" stroke-width="0.800"/>
<line x1="488.50" y1="691.4" x2="488.50" y2="694.90" stroke="#000" stroke-width="0.800"/>
<line x1="524.50" y1="691.4" x2="524.50" y2="694.90" stroke="#000" stroke-width="0.800"/>
<line x1="561.50" y1="691.4" x2="561.50" y2="694.90" stroke="#000" stroke-width="0.800"/>
<line x1="597.50" y1="691.4" x2="597.50" y2="694.90" stroke="#000" stroke-width="0.800"/>
<line x1="634.50" y1="691.4" x2="634.50" y2="694.90" stroke="#000" stroke-width="0.800"/>
<line x1="670.50" y1="691.4" x2="670.50" y2="694.90" stroke="#000" stroke-width="0.800"/>
<line x1="403.5" y1="691.40" x2="400.00" y2="691.40" stroke="#000" stroke-width="0.800"/>
<line x1="403.5" y1="675.80" x2="400.00" y2="675.80" stroke="#000" stroke-width="0.800"/>
<line x1="403.5" y1="660.70" x2="400.00" y2="660.70" stroke="#000" stroke-width="0.800"/>
<line x1="403.5" y1="645.40" x2="400.00" y2="645.40" stroke="#000" stroke-width="0.800"/>
<line x1="403.5" y1="630.30" x2="400.00" y2="630.30" stroke="#000" stroke-width="0.800"/>
<line x1="403.5" y1="615.30" x2="400.00" y2="615.30" stroke="#000" stroke-width="0.800"/>
<line x1="403.5" y1="599.40" x2="400.00" y2="599.40" stroke="#000" stroke-width="0.800"/>
<line x1="403.5" y1="584.30" x2="400.00" y2="584.30" stroke="#000" stroke-width="0.800"/>
<line x1="403.5" y1="569.20" x2="400.00" y2="569.20" stroke="#000" stroke-width="0.800"/>
<line x1="403.5" y1="553.90" x2="400.00" y2="553.90" stroke="#000" stroke-width="0.800"/>
<line x1="403.5" y1="538.60" x2="400.00" y2="538.60" stroke="#000" stroke-width="0.800"/>
<rect x="403.5" y="524.4" width="280.0" height="167.0" fill="none" stroke="#000" stroke-width="0.8"/>
<rect x="408.50" y="622.90" width="145.36" height="63.50" rx="2.00" ry="2.00" fill="#fff" fill-opacity="0.8" stroke="#ccc" stroke-opacity="0.8" stroke-width="1.00"/>
<line x1="412.10" y1="631.20" x2="432.10" y2="631.20" stroke="#0000ff" stroke-width="1.50" stroke-linecap="square"/>
<line x1="412.10" y1="646.30" x2="432.10" y2="646.30" stroke="#ff0000" stroke-width="1.50" stroke-linecap="square"/>
<line x1="412.10" y1="661.40" x2="432.10" y2="661.40" stroke="#008000" stroke-width="1.50" stroke-dasharray="5.55 2.40"/>
<line x1="412.10" y1="676.50" x2="432.10" y2="676.50" stroke="#800080" stroke-width="1.50" stroke-dasharray="1.70 2.27"/>
<g fill="#222">
<text x="60.50" y="197.70" text-anchor="middle" font-size="10.3" textLength="15.90" lengthAdjust="spacingAndGlyphs">0.5</text>
<text x="97.50" y="197.70" text-anchor="middle" font-size="10.3" textLength="15.90" lengthAdjust="spacingAndGlyphs">0.7</text>
<text x="133.50" y="197.70" text-anchor="middle" font-size="10.3" textLength="15.90" lengthAdjust="spacingAndGlyphs">0.8</text>
<text x="169.50" y="197.70" text-anchor="middle" font-size="10.3" textLength="15.90" lengthAdjust="spacingAndGlyphs">0.9</text>
<text x="206.50" y="197.70" text-anchor="middle" font-size="10.3" textLength="22.27" lengthAdjust="spacingAndGlyphs">0.95</text>
<text x="242.50" y="197.70" text-anchor="middle" font-size="10.3" textLength="28.63" lengthAdjust="spacingAndGlyphs">0.975</text>
<text x="279.50" y="197.70" text-anchor="middle" font-size="10.3" textLength="22.27" lengthAdjust="spacingAndGlyphs">0.98</text>
<text x="315.50" y="197.70" text-anchor="middle" font-size="10.3" textLength="22.27" lengthAdjust="spacingAndGlyphs">0.99</text>
<text x="41.25" y="186.40" text-anchor="end" font-size="10.3" textLength="6.36" lengthAdjust="spacingAndGlyphs">0</text>
<text x="40.62" y="171.40" text-anchor="end" font-size="10.3" textLength="19.09" lengthAdjust="spacingAndGlyphs">500</text>
<text x="40.30" y="157.40" text-anchor="end" font-size="10.3" textLength="25.45" lengthAdjust="spacingAndGlyphs">1000</text>
<text x="40.30" y="142.40" text-anchor="end" font-size="10.3" textLength="25.45" lengthAdjust="spacingAndGlyphs">1500</text>
<text x="40.30" y="127.40" text-anchor="end" font-size="10.3" textLength="25.45" lengthAdjust="spacingAndGlyphs">2000</text>
<text x="40.30" y="112.40" text-anchor="end" font-size="10.3" textLength="25.45" lengthAdjust="spacingAndGlyphs">2500</text>
<text x="40.30" y="98.40" text-anchor="end" font-size="10.3" textLength="25.45" lengthAdjust="spacingAndGlyphs">3000</text>
<text x="40.30" y="83.40" text-anchor="end" font-size="10.3" textLength="25.45" lengthAdjust="spacingAndGlyphs">3500</text>
<text x="40.30" y="68.40" text-anchor="end" font-size="10.3" textLength="25.45" lengthAdjust="spacingAndGlyphs">4000</text>
<text x="40.30" y="54.40" text-anchor="end" font-size="10.3" textLength="25.45" lengthAdjust="spacingAndGlyphs">4500</text>
<text x="40.30" y="39.40" text-anchor="end" font-size="10.3" textLength="25.45" lengthAdjust="spacingAndGlyphs">5000</text>
<text x="40.30" y="24.40" text-anchor="end" font-size="10.3" textLength="25.45" lengthAdjust="spacingAndGlyphs">5500</text>
<text x="188.50" y="211.80" text-anchor="middle" font-size="10.3" textLength="40.76" lengthAdjust="spacingAndGlyphs">Sparsity</text>
<text x="9.50" y="101.10" text-anchor="middle" font-size="10.3" textLength="37.24" lengthAdjust="spacingAndGlyphs" transform="rotate(-90 9.50 101.10)">Reward</text>
<text x="187.70" y="9.50" text-anchor="middle" font-size="12.4" textLength="75.15" lengthAdjust="spacingAndGlyphs">SAC / Ant-v4</text>
<text x="187.80" y="229.20" text-anchor="middle" font-size="10.8" class="cap">(a)</text>
<text x="85.10" y="125.80" text-anchor="start" font-size="10.3" textLength="38.60" lengthAdjust="spacingAndGlyphs">pruning</text>
<text x="85.10" y="140.90" text-anchor="start" font-size="10.3" textLength="109.36" lengthAdjust="spacingAndGlyphs">pruning+quantization</text>
<text x="85.10" y="156.00" text-anchor="start" font-size="10.3" textLength="35.19" lengthAdjust="spacingAndGlyphs">default</text>
<text x="85.10" y="171.10" text-anchor="start" font-size="10.3" textLength="62.38" lengthAdjust="spacingAndGlyphs">quantization</text>
<text x="420.90" y="198.21" text-anchor="middle" font-size="10.1043" textLength="15.60" lengthAdjust="spacingAndGlyphs">0.5</text>
<text x="456.64" y="198.21" text-anchor="middle" font-size="10.1043" textLength="15.60" lengthAdjust="spacingAndGlyphs">0.7</text>
<text x="492.39" y="198.21" text-anchor="middle" font-size="10.1043" textLength="15.60" lengthAdjust="spacingAndGlyphs">0.8</text>
<text x="528.13" y="198.21" text-anchor="middle" font-size="10.1043" textLength="15.60" lengthAdjust="spacingAndGlyphs">0.9</text>
<text x="563.87" y="198.21" text-anchor="middle" font-size="10.1043" textLength="21.84" lengthAdjust="spacingAndGlyphs">0.95</text>
<text x="599.61" y="198.21" text-anchor="middle" font-size="10.1043" textLength="28.08" lengthAdjust="spacingAndGlyphs">0.975</text>
<text x="635.36" y="198.21" text-anchor="middle" font-size="10.1043" textLength="21.84" lengthAdjust="spacingAndGlyphs">0.98</text>
<text x="671.10" y="198.21" text-anchor="middle" font-size="10.1043" textLength="21.84" lengthAdjust="spacingAndGlyphs">0.99</text>
<text x="401.54" y="187.13" text-anchor="end" font-size="10.1043" textLength="6.24" lengthAdjust="spacingAndGlyphs">0</text>
<text x="400.61" y="173.36" text-anchor="end" font-size="10.1043" textLength="24.97" lengthAdjust="spacingAndGlyphs">1000</text>
<text x="400.61" y="159.99" text-anchor="end" font-size="10.1043" textLength="24.97" lengthAdjust="spacingAndGlyphs">2000</text>
<text x="400.61" y="146.62" text-anchor="end" font-size="10.1043" textLength="24.97" lengthAdjust="spacingAndGlyphs">3000</text>
<text x="400.61" y="133.25" text-anchor="end" font-size="10.1043" textLength="24.97" lengthAdjust="spacingAndGlyphs">4000</text>
<text x="400.61" y="119.88" text-anchor="end" font-size="10.1043" textLength="24.97" lengthAdjust="spacingAndGlyphs">5000</text>
<text x="400.61" y="106.51" text-anchor="end" font-size="10.1043" textLength="24.97" lengthAdjust="spacingAndGlyphs">6000</text>
<text x="400.61" y="93.14" text-anchor="end" font-size="10.1043" textLength="24.97" lengthAdjust="spacingAndGlyphs">7000</text>
<text x="400.61" y="79.77" text-anchor="end" font-size="10.1043" textLength="24.97" lengthAdjust="spacingAndGlyphs">8000</text>
<text x="400.61" y="66.40" text-anchor="end" font-size="10.1043" textLength="24.97" lengthAdjust="spacingAndGlyphs">9000</text>
<text x="400.30" y="53.03" text-anchor="end" font-size="10.1043" textLength="31.21" lengthAdjust="spacingAndGlyphs">10000</text>
<text x="400.30" y="39.66" text-anchor="end" font-size="10.1043" textLength="31.21" lengthAdjust="spacingAndGlyphs">11000</text>
<text x="400.30" y="26.29" text-anchor="end" font-size="10.1043" textLength="31.21" lengthAdjust="spacingAndGlyphs">12000</text>
<text x="546.15" y="212.20" text-anchor="middle" font-size="10.1043" textLength="39.99" lengthAdjust="spacingAndGlyphs">Sparsity</text>
<text x="364.10" y="103.53" text-anchor="middle" font-size="10.1043" textLength="36.53" lengthAdjust="spacingAndGlyphs" transform="rotate(-90 364.10 103.53)">Reward</text>
<text x="545.35" y="13.66" text-anchor="middle" font-size="12.1644" textLength="126.54" lengthAdjust="spacingAndGlyphs">SAC / HalfCheetah-v4</text>
<text x="546.00" y="228.60" text-anchor="middle" font-size="10.8" class="cap">(b)</text>
<text x="444.55" y="127.68" text-anchor="start" font-size="10.1043" textLength="37.87" lengthAdjust="spacingAndGlyphs">pruning</text>
<text x="444.55" y="142.49" text-anchor="start" font-size="10.1043" textLength="107.29" lengthAdjust="spacingAndGlyphs">pruning+quantization</text>
<text x="444.55" y="157.30" text-anchor="start" font-size="10.1043" textLength="34.52" lengthAdjust="spacingAndGlyphs">default</text>
<text x="444.55" y="172.12" text-anchor="start" font-size="10.1043" textLength="61.20" lengthAdjust="spacingAndGlyphs">quantization</text>
<text x="60.50" y="448.65" text-anchor="middle" font-size="10.3" textLength="15.90" lengthAdjust="spacingAndGlyphs">0.5</text>
<text x="97.50" y="448.65" text-anchor="middle" font-size="10.3" textLength="15.90" lengthAdjust="spacingAndGlyphs">0.7</text>
<text x="133.50" y="448.65" text-anchor="middle" font-size="10.3" textLength="15.90" lengthAdjust="spacingAndGlyphs">0.8</text>
<text x="169.50" y="448.65" text-anchor="middle" font-size="10.3" textLength="15.90" lengthAdjust="spacingAndGlyphs">0.9</text>
<text x="206.50" y="448.65" text-anchor="middle" font-size="10.3" textLength="22.27" lengthAdjust="spacingAndGlyphs">0.95</text>
<text x="242.50" y="448.65" text-anchor="middle" font-size="10.3" textLength="28.63" lengthAdjust="spacingAndGlyphs">0.975</text>
<text x="279.50" y="448.65" text-anchor="middle" font-size="10.3" textLength="22.27" lengthAdjust="spacingAndGlyphs">0.98</text>
<text x="315.50" y="448.65" text-anchor="middle" font-size="10.3" textLength="22.27" lengthAdjust="spacingAndGlyphs">0.99</text>
<text x="41.25" y="437.35" text-anchor="end" font-size="10.3" textLength="6.36" lengthAdjust="spacingAndGlyphs">0</text>
<text x="40.62" y="424.35" text-anchor="end" font-size="10.3" textLength="19.09" lengthAdjust="spacingAndGlyphs">300</text>
<text x="40.62" y="411.35" text-anchor="end" font-size="10.3" textLength="19.09" lengthAdjust="spacingAndGlyphs">600</text>
<text x="40.62" y="398.35" text-anchor="end" font-size="10.3" textLength="19.09" lengthAdjust="spacingAndGlyphs">900</text>
<text x="40.30" y="385.35" text-anchor="end" font-size="10.3" textLength="25.45" lengthAdjust="spacingAndGlyphs">1200</text>
<text x="40.30" y="372.35" text-anchor="end" font-size="10.3" textLength="25.45" lengthAdjust="spacingAndGlyphs">1500</text>
<text x="40.30" y="359.35" text-anchor="end" font-size="10.3" textLength="25.45" lengthAdjust="spacingAndGlyphs">1800</text>
<text x="40.30" y="346.35" text-anchor="end" font-size="10.3" textLength="25.45" lengthAdjust="spacingAndGlyphs">2100</text>
<text x="40.30" y="333.35" text-anchor="end" font-size="10.3" textLength="25.45" lengthAdjust="spacingAndGlyphs">2400</text>
<text x="40.30" y="320.35" text-anchor="end" font-size="10.3" textLength="25.45" lengthAdjust="spacingAndGlyphs">2700</text>
<text x="40.30" y="307.35" text-anchor="end" font-size="10.3" textLength="25.45" lengthAdjust="spacingAndGlyphs">3000</text>
<text x="40.30" y="294.35" text-anchor="end" font-size="10.3" textLength="25.45" lengthAdjust="spacingAndGlyphs">3300</text>
<text x="40.30" y="281.35" text-anchor="end" font-size="10.3" textLength="25.45" lengthAdjust="spacingAndGlyphs">3600</text>
<text x="188.50" y="463.20" text-anchor="middle" font-size="10.3" textLength="40.76" lengthAdjust="spacingAndGlyphs">Sparsity</text>
<text x="9.50" y="352.05" text-anchor="middle" font-size="10.3" textLength="37.24" lengthAdjust="spacingAndGlyphs" transform="rotate(-90 9.50 352.05)">Reward</text>
<text x="187.70" y="260.45" text-anchor="middle" font-size="12.4" textLength="97.78" lengthAdjust="spacingAndGlyphs">SAC / Hopper-v4</text>
<text x="187.80" y="480.60" text-anchor="middle" font-size="10.8" class="cap">(c)</text>
<text x="85.10" y="376.75" text-anchor="start" font-size="10.3" textLength="38.60" lengthAdjust="spacingAndGlyphs">pruning</text>
<text x="85.10" y="391.85" text-anchor="start" font-size="10.3" textLength="109.36" lengthAdjust="spacingAndGlyphs">pruning+quantization</text>
<text x="85.10" y="406.95" text-anchor="start" font-size="10.3" textLength="35.19" lengthAdjust="spacingAndGlyphs">default</text>
<text x="85.10" y="422.05" text-anchor="start" font-size="10.3" textLength="62.38" lengthAdjust="spacingAndGlyphs">quantization</text>
<text x="415.50" y="448.60" text-anchor="middle" font-size="10.3" textLength="15.90" lengthAdjust="spacingAndGlyphs">0.5</text>
<text x="452.50" y="448.60" text-anchor="middle" font-size="10.3" textLength="15.90" lengthAdjust="spacingAndGlyphs">0.7</text>
<text x="488.50" y="448.60" text-anchor="middle" font-size="10.3" textLength="15.90" lengthAdjust="spacingAndGlyphs">0.8</text>
<text x="524.50" y="448.60" text-anchor="middle" font-size="10.3" textLength="15.90" lengthAdjust="spacingAndGlyphs">0.9</text>
<text x="561.50" y="448.60" text-anchor="middle" font-size="10.3" textLength="22.27" lengthAdjust="spacingAndGlyphs">0.95</text>
<text x="597.50" y="448.60" text-anchor="middle" font-size="10.3" textLength="28.63" lengthAdjust="spacingAndGlyphs">0.975</text>
<text x="634.50" y="448.60" text-anchor="middle" font-size="10.3" textLength="22.27" lengthAdjust="spacingAndGlyphs">0.98</text>
<text x="670.50" y="448.60" text-anchor="middle" font-size="10.3" textLength="22.27" lengthAdjust="spacingAndGlyphs">0.99</text>
<text x="396.25" y="437.30" text-anchor="end" font-size="10.3" textLength="6.36" lengthAdjust="spacingAndGlyphs">0</text>
<text x="395.62" y="422.30" text-anchor="end" font-size="10.3" textLength="19.09" lengthAdjust="spacingAndGlyphs">500</text>
<text x="395.30" y="407.30" text-anchor="end" font-size="10.3" textLength="25.45" lengthAdjust="spacingAndGlyphs">1000</text>
<text x="395.30" y="393.30" text-anchor="end" font-size="10.3" textLength="25.45" lengthAdjust="spacingAndGlyphs">1500</text>
<text x="395.30" y="378.30" text-anchor="end" font-size="10.3" textLength="25.45" lengthAdjust="spacingAndGlyphs">2000</text>
<text x="395.30" y="363.30" text-anchor="end" font-size="10.3" textLength="25.45" lengthAdjust="spacingAndGlyphs">2500</text>
<text x="395.30" y="349.30" text-anchor="end" font-size="10.3" textLength="25.45" lengthAdjust="spacingAndGlyphs">3000</text>
<text x="395.30" y="334.30" text-anchor="end" font-size="10.3" textLength="25.45" lengthAdjust="spacingAndGlyphs">3500</text>
<text x="395.30" y="319.30" text-anchor="end" font-size="10.3" textLength="25.45" lengthAdjust="spacingAndGlyphs">4000</text>
<text x="395.30" y="305.30" text-anchor="end" font-size="10.3" textLength="25.45" lengthAdjust="spacingAndGlyphs">4500</text>
<text x="395.30" y="290.30" text-anchor="end" font-size="10.3" textLength="25.45" lengthAdjust="spacingAndGlyphs">5000</text>
<text x="395.30" y="276.30" text-anchor="end" font-size="10.3" textLength="25.45" lengthAdjust="spacingAndGlyphs">5500</text>
<text x="543.50" y="463.20" text-anchor="middle" font-size="10.3" textLength="40.76" lengthAdjust="spacingAndGlyphs">Sparsity</text>
<text x="365.00" y="352.00" text-anchor="middle" font-size="10.3" textLength="37.24" lengthAdjust="spacingAndGlyphs" transform="rotate(-90 365.00 352.00)">Reward</text>
<text x="542.70" y="260.40" text-anchor="middle" font-size="12.4" textLength="116.21" lengthAdjust="spacingAndGlyphs">SAC / Humanoid-v4</text>
<text x="544.00" y="480.20" text-anchor="middle" font-size="10.8" class="cap">(d)</text>
<text x="440.10" y="376.70" text-anchor="start" font-size="10.3" textLength="38.60" lengthAdjust="spacingAndGlyphs">pruning</text>
<text x="440.10" y="391.80" text-anchor="start" font-size="10.3" textLength="109.36" lengthAdjust="spacingAndGlyphs">pruning+quantization</text>
<text x="440.10" y="406.90" text-anchor="start" font-size="10.3" textLength="35.19" lengthAdjust="spacingAndGlyphs">default</text>
<text x="440.10" y="422.00" text-anchor="start" font-size="10.3" textLength="62.38" lengthAdjust="spacingAndGlyphs">quantization</text>
<text x="55.90" y="705.87" text-anchor="middle" font-size="10.4854" textLength="16.19" lengthAdjust="spacingAndGlyphs">0.5</text>
<text x="92.96" y="705.87" text-anchor="middle" font-size="10.4854" textLength="16.19" lengthAdjust="spacingAndGlyphs">0.7</text>
<text x="130.01" y="705.87" text-anchor="middle" font-size="10.4854" textLength="16.19" lengthAdjust="spacingAndGlyphs">0.8</text>
<text x="167.07" y="705.87" text-anchor="middle" font-size="10.4854" textLength="16.19" lengthAdjust="spacingAndGlyphs">0.9</text>
<text x="204.13" y="705.87" text-anchor="middle" font-size="10.4854" textLength="22.67" lengthAdjust="spacingAndGlyphs">0.95</text>
<text x="241.19" y="705.87" text-anchor="middle" font-size="10.4854" textLength="29.14" lengthAdjust="spacingAndGlyphs">0.975</text>
<text x="278.24" y="705.87" text-anchor="middle" font-size="10.4854" textLength="22.67" lengthAdjust="spacingAndGlyphs">0.98</text>
<text x="315.30" y="705.87" text-anchor="middle" font-size="10.4854" textLength="22.67" lengthAdjust="spacingAndGlyphs">0.99</text>
<text x="35.42" y="694.37" text-anchor="end" font-size="10.4854" textLength="6.48" lengthAdjust="spacingAndGlyphs">0</text>
<text x="35.10" y="678.02" text-anchor="end" font-size="10.4854" textLength="12.95" lengthAdjust="spacingAndGlyphs">10</text>
<text x="35.10" y="661.67" text-anchor="end" font-size="10.4854" textLength="12.95" lengthAdjust="spacingAndGlyphs">20</text>
<text x="35.10" y="645.32" text-anchor="end" font-size="10.4854" textLength="12.95" lengthAdjust="spacingAndGlyphs">30</text>
<text x="35.10" y="628.97" text-anchor="end" font-size="10.4854" textLength="12.95" lengthAdjust="spacingAndGlyphs">40</text>
<text x="35.10" y="612.62" text-anchor="end" font-size="10.4854" textLength="12.95" lengthAdjust="spacingAndGlyphs">50</text>
<text x="35.10" y="596.27" text-anchor="end" font-size="10.4854" textLength="12.95" lengthAdjust="spacingAndGlyphs">60</text>
<text x="35.10" y="579.92" text-anchor="end" font-size="10.4854" textLength="12.95" lengthAdjust="spacingAndGlyphs">70</text>
<text x="35.10" y="563.57" text-anchor="end" font-size="10.4854" textLength="12.95" lengthAdjust="spacingAndGlyphs">80</text>
<text x="35.10" y="547.22" text-anchor="end" font-size="10.4854" textLength="12.95" lengthAdjust="spacingAndGlyphs">90</text>
<text x="34.78" y="530.87" text-anchor="end" font-size="10.4854" textLength="19.43" lengthAdjust="spacingAndGlyphs">100</text>
<text x="185.50" y="720.30" text-anchor="middle" font-size="10.4854" textLength="41.50" lengthAdjust="spacingAndGlyphs">Sparsity</text>
<text x="9.50" y="607.45" text-anchor="middle" font-size="10.4854" textLength="37.91" lengthAdjust="spacingAndGlyphs" transform="rotate(-90 9.50 607.45)">Reward</text>
<text x="184.70" y="514.19" text-anchor="middle" font-size="12.6232" textLength="112.31" lengthAdjust="spacingAndGlyphs">SAC / Swimmer-v4</text>
<text x="182.10" y="739.70" text-anchor="middle" font-size="10.8" class="cap">(e)</text>
<text x="207.30" y="537.40" text-anchor="start" font-size="10.4854" textLength="39.29" lengthAdjust="spacingAndGlyphs">pruning</text>
<text x="207.30" y="552.77" text-anchor="start" font-size="10.4854" textLength="111.33" lengthAdjust="spacingAndGlyphs">pruning+quantization</text>
<text x="207.30" y="568.15" text-anchor="start" font-size="10.4854" textLength="35.82" lengthAdjust="spacingAndGlyphs">default</text>
<text x="207.30" y="583.52" text-anchor="start" font-size="10.4854" textLength="63.51" lengthAdjust="spacingAndGlyphs">quantization</text>
<text x="415.50" y="706.60" text-anchor="middle" font-size="10.3" textLength="15.90" lengthAdjust="spacingAndGlyphs">0.5</text>
<text x="452.50" y="706.60" text-anchor="middle" font-size="10.3" textLength="15.90" lengthAdjust="spacingAndGlyphs">0.7</text>
<text x="488.50" y="706.60" text-anchor="middle" font-size="10.3" textLength="15.90" lengthAdjust="spacingAndGlyphs">0.8</text>
<text x="524.50" y="706.60" text-anchor="middle" font-size="10.3" textLength="15.90" lengthAdjust="spacingAndGlyphs">0.9</text>
<text x="561.50" y="706.60" text-anchor="middle" font-size="10.3" textLength="22.27" lengthAdjust="spacingAndGlyphs">0.95</text>
<text x="597.50" y="706.60" text-anchor="middle" font-size="10.3" textLength="28.63" lengthAdjust="spacingAndGlyphs">0.975</text>
<text x="634.50" y="706.60" text-anchor="middle" font-size="10.3" textLength="22.27" lengthAdjust="spacingAndGlyphs">0.98</text>
<text x="670.50" y="706.60" text-anchor="middle" font-size="10.3" textLength="22.27" lengthAdjust="spacingAndGlyphs">0.99</text>
<text x="396.25" y="695.30" text-anchor="end" font-size="10.3" textLength="6.36" lengthAdjust="spacingAndGlyphs">0</text>
<text x="395.62" y="679.70" text-anchor="end" font-size="10.3" textLength="19.09" lengthAdjust="spacingAndGlyphs">500</text>
<text x="395.30" y="664.60" text-anchor="end" font-size="10.3" textLength="25.45" lengthAdjust="spacingAndGlyphs">1000</text>
<text x="395.30" y="649.30" text-anchor="end" font-size="10.3" textLength="25.45" lengthAdjust="spacingAndGlyphs">1500</text>
<text x="395.30" y="634.20" text-anchor="end" font-size="10.3" textLength="25.45" lengthAdjust="spacingAndGlyphs">2000</text>
<text x="395.30" y="619.20" text-anchor="end" font-size="10.3" textLength="25.45" lengthAdjust="spacingAndGlyphs">2500</text>
<text x="395.30" y="603.30" text-anchor="end" font-size="10.3" textLength="25.45" lengthAdjust="spacingAndGlyphs">3000</text>
<text x="395.30" y="588.20" text-anchor="end" font-size="10.3" textLength="25.45" lengthAdjust="spacingAndGlyphs">3500</text>
<text x="395.30" y="573.10" text-anchor="end" font-size="10.3" textLength="25.45" lengthAdjust="spacingAndGlyphs">4000</text>
<text x="395.30" y="557.80" text-anchor="end" font-size="10.3" textLength="25.45" lengthAdjust="spacingAndGlyphs">4500</text>
<text x="395.30" y="542.50" text-anchor="end" font-size="10.3" textLength="25.45" lengthAdjust="spacingAndGlyphs">5000</text>
<text x="543.50" y="720.60" text-anchor="middle" font-size="10.3" textLength="40.76" lengthAdjust="spacingAndGlyphs">Sparsity</text>
<text x="365.00" y="610.00" text-anchor="middle" font-size="10.3" textLength="37.24" lengthAdjust="spacingAndGlyphs" transform="rotate(-90 365.00 610.00)">Reward</text>
<text x="542.70" y="518.40" text-anchor="middle" font-size="12.4" textLength="110.51" lengthAdjust="spacingAndGlyphs">SAC / Walker2d-v4</text>
<text x="542.70" y="740.00" text-anchor="middle" font-size="10.8" class="cap">(f)</text>
<text x="440.10" y="634.70" text-anchor="start" font-size="10.3" textLength="38.60" lengthAdjust="spacingAndGlyphs">pruning</text>
<text x="440.10" y="649.80" text-anchor="start" font-size="10.3" textLength="109.36" lengthAdjust="spacingAndGlyphs">pruning+quantization</text>
<text x="440.10" y="664.90" text-anchor="start" font-size="10.3" textLength="35.19" lengthAdjust="spacingAndGlyphs">default</text>
<text x="440.10" y="680.00" text-anchor="start" font-size="10.3" textLength="62.38" lengthAdjust="spacingAndGlyphs">quantization</text>
</g>
</svg>
</body></html>
